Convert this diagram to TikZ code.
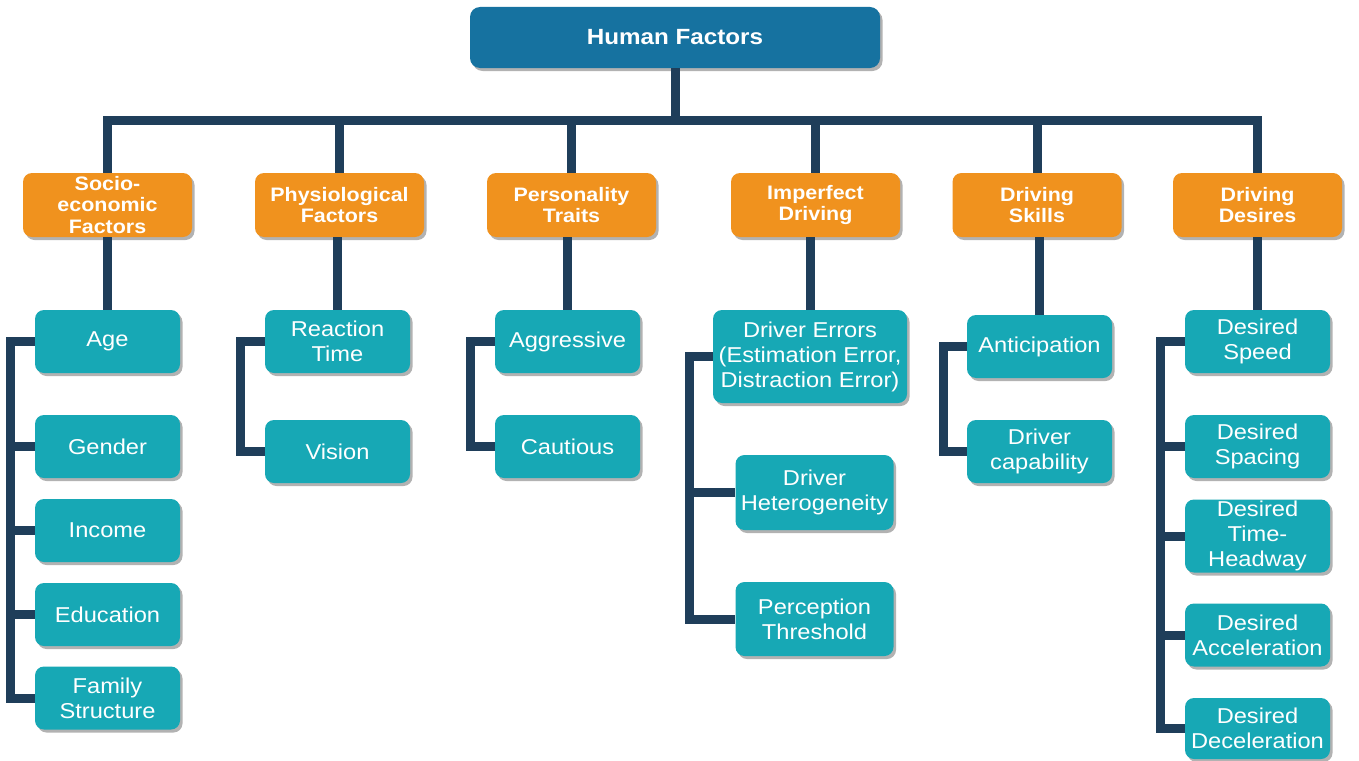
\documentclass[tikz,border=0pt]{standalone}
\usepackage{fontspec}
\setmainfont[FakeStretch=1.1]{Liberation Sans}
\usetikzlibrary{shadows}
\definecolor{topblue}{HTML}{1672A0}
\definecolor{catorange}{HTML}{F0921E}
\definecolor{leafteal}{HTML}{17A8B5}
\definecolor{linknavy}{HTML}{1F3E5A}
\tikzset{
  boxshadow/.style={drop shadow={shadow xshift=2.5pt, shadow yshift=-3pt, fill=black, opacity=0.3}},
  topbox/.style={rounded corners=10pt, fill=topblue, text=white, inner sep=0pt,
    minimum width=410pt, minimum height=61pt, boxshadow,
    font=\bfseries\fontsize{22}{25}\selectfont},
  catbox/.style={rounded corners=9pt, fill=catorange, text=white, inner sep=0pt,
    minimum width=169pt, minimum height=64pt, align=center, boxshadow,
    font=\bfseries\fontsize{19.5}{21.5}\selectfont},
  leafbox/.style={rounded corners=9pt, fill=leafteal, text=white, inner sep=0pt,
    minimum width=145pt, minimum height=63pt, align=center, boxshadow,
    font=\fontsize{21.5}{25}\selectfont},
  link/.style={draw=linknavy, line width=9pt}
}
\begin{document}
\begin{tikzpicture}[x=1pt, y=-1pt]
\useasboundingbox[fill=white] (0,0) rectangle (1359,760);
% connector helper coordinates
\coordinate (bus) at (0,120);
\coordinate (k1) at (10,0);
\coordinate (k2) at (240,0);
\coordinate (k3) at (470,0);
\coordinate (k4) at (689,0);
\coordinate (k5) at (943,0);
\coordinate (k6) at (1160,0);

% top
\node[topbox] (hf) at (675,37.5) {Human Factors};

% categories
\node[catbox] (c1) at (107.5,205) {Socio-\\economic\\Factors};
\node[catbox] (c2) at (339.5,205) {Physiological\\Factors};
\node[catbox] (c3) at (571.5,205) {Personality\\Traits};
\node[catbox] (c4) at (815.5,205) {Imperfect\\Driving};
\node[catbox] (c5) at (1037,205) {Driving\\Skills};
\node[catbox] (c6) at (1257.5,205) {Driving\\Desires};

% column 1
\node[leafbox] (age) at (107.5,341.5) {Age};
\node[leafbox] (gen) at (107.5,446.5) {Gender};
\node[leafbox] (inc) at (107.5,530.5) {Income};
\node[leafbox] (edu) at (107.5,614.5) {Education};
\node[leafbox] (fam) at (107.5,698) {Family\\Structure};

% column 2
\node[leafbox] (rt) at (337.5,341.5) {Reaction\\Time};
\node[leafbox] (vis) at (337.5,451.5) {Vision};

% column 3
\node[leafbox] (agg) at (567.5,341.5) {Aggressive};
\node[leafbox] (cau) at (567.5,446.5) {Cautious};

% column 4
\node[leafbox, minimum width=194pt, minimum height=93pt] (de) at (810,356.5) {Driver Errors\\(Estimation Error,\\Distraction Error)};
\node[leafbox, minimum width=158pt, minimum height=75pt] (dh) at (814.5,492.5) {Driver\\Heterogeneity};
\node[leafbox, minimum width=158pt, minimum height=74pt] (pt) at (814.5,619) {Perception\\Threshold};

% column 5
\node[leafbox] (ant) at (1039.5,346.5) {Anticipation};
\node[leafbox] (cap) at (1039.5,451.5) {Driver\\capability};

% column 6
\node[leafbox] (ds) at (1257.5,341.5) {Desired\\Speed};
\node[leafbox] (dsp) at (1257.5,446.5) {Desired\\Spacing};
\node[leafbox, minimum height=73pt] (dth) at (1257.5,536) {Desired\\Time-\\Headway};
\node[leafbox] (dac) at (1257.5,635) {Desired\\Acceleration};
\node[leafbox, minimum height=61pt] (dde) at (1257.5,728.5) {Desired\\Deceleration};

% connectors: top and bus
\draw[link] (hf.south) -- (hf.south |- bus);
\draw[link] (c1.north) -- (c1.north |- bus) -- (c6.north |- bus) -- (c6.north);
\foreach \c in {c2,c3,c4,c5} {
  \draw[link] (\c.north) -- (\c.north |- bus);
}
% category to first leaf
\draw[link] (age.north) -- (age.north |- c1.south);
\draw[link] (rt.north) -- (rt.north |- c2.south);
\draw[link] (agg.north) -- (agg.north |- c3.south);
\draw[link] (de.north) -- (de.north |- c4.south);
\draw[link] (ant.north) -- (ant.north |- c5.south);
\draw[link] (ds.north) -- (ds.north |- c6.south);

% brackets
\draw[link] (age.west) -- (age.west -| k1) |- (fam.west);
\foreach \n in {gen,inc,edu} { \draw[link] (\n.west) -- (\n.west -| k1); }
\draw[link] (rt.west) -- (rt.west -| k2) |- (vis.west);
\draw[link] (agg.west) -- (agg.west -| k3) |- (cau.west);
\draw[link] (de.west) -- (de.west -| k4) |- (pt.west);
\draw[link] (dh.west) -- (dh.west -| k4);
\draw[link] (ant.west) -- (ant.west -| k5) |- (cap.west);
\draw[link] (ds.west) -- (ds.west -| k6) |- (dde.west);
\foreach \n in {dsp,dth,dac} { \draw[link] (\n.west) -- (\n.west -| k6); }
\end{tikzpicture}
\end{document}
